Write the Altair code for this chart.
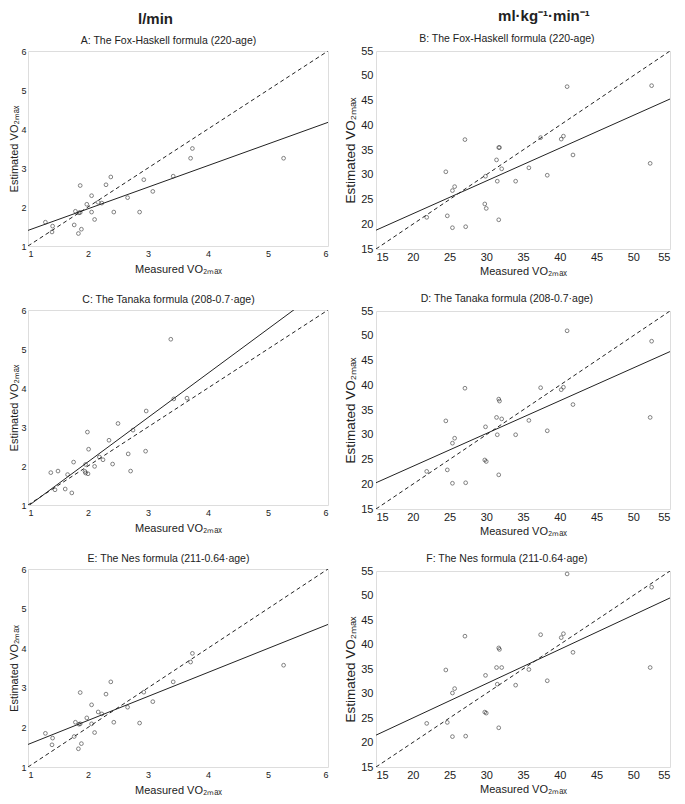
import altair as alt
import pandas as pd

FONT = "Liberation Sans"
INK = "#222222"

# ---------------- data ----------------
# l/min panels (A, E share measured values)
measured_lmin = [1.29, 1.40, 1.41, 1.77, 1.79, 1.84, 1.85, 1.87, 1.87, 1.89, 1.98, 2.06, 2.06, 2.11,
                 2.17, 2.23, 2.30, 2.38, 2.43, 2.66, 2.86, 2.93, 3.08, 3.42, 3.71, 3.74, 5.26]
est_A = [1.61, 1.36, 1.51, 1.54, 1.89, 1.32, 1.85, 1.86, 2.55, 1.43, 2.07, 2.29, 1.87, 1.68,
         2.12, 2.10, 2.57, 2.77, 1.87, 2.24, 1.87, 2.70, 2.40, 2.79, 3.25, 3.50, 3.25]
est_E = [1.85, 1.56, 1.73, 1.77, 2.13, 1.46, 2.08, 2.09, 2.88, 1.59, 2.24, 2.57, 2.09, 1.87,
         2.39, 2.34, 2.84, 3.15, 2.13, 2.51, 2.11, 2.89, 2.65, 3.15, 3.65, 3.87, 3.57]
# panel C as drawn
x_C = [1.38, 1.50, 1.45, 1.62, 1.66, 1.73, 1.76, 1.96, 1.95, 1.96, 2.00, 1.99, 2.01, 2.11,
       2.19, 2.25, 2.35, 2.41, 2.50, 2.67, 2.71, 2.75, 2.97, 2.96, 3.38, 3.43, 3.65]
y_C = [1.83, 1.87, 1.39, 1.41, 1.78, 1.31, 2.10, 2.04, 1.86, 1.82, 1.80, 2.87, 2.43, 1.99,
       2.23, 2.16, 2.66, 2.05, 3.09, 2.31, 1.87, 2.92, 3.41, 2.38, 5.25, 3.72, 3.74]

# ml/kg/min panels (B, D, F share measured values)
measured_mlkg = [21.9, 24.5, 24.7, 25.4, 25.7, 25.4, 27.1, 27.2, 29.8, 30.0, 29.9, 31.4, 31.5, 31.7,
                 31.8, 31.7, 32.1, 34.0, 35.8, 37.4, 38.3, 40.2, 40.5, 41.0, 41.8, 52.3, 52.5]
est_B = [21.4, 30.6, 21.7, 26.8, 27.6, 19.3, 37.1, 19.5, 24.1, 23.2, 29.7, 33.0, 28.7, 35.5,
         35.5, 20.9, 31.2, 28.7, 31.4, 37.5, 29.9, 37.2, 37.8, 47.8, 34.0, 32.3, 48.0]
est_D = [22.6, 32.8, 22.9, 28.3, 29.3, 20.2, 39.4, 20.3, 24.9, 24.6, 31.6, 33.5, 30.0, 37.2,
         36.8, 21.9, 33.2, 30.0, 32.9, 39.5, 30.8, 39.1, 39.6, 51.0, 36.1, 33.5, 48.9]
est_F = [23.9, 34.8, 24.1, 30.1, 31.0, 21.2, 41.7, 21.3, 26.2, 26.0, 33.7, 35.3, 31.9, 39.3,
         39.0, 23.0, 35.3, 31.7, 34.9, 42.0, 32.6, 41.4, 42.2, 54.4, 38.4, 35.3, 51.7]

# regression line end points (x at domain ends, y)
reg_x_lmin = [1, 6]
reg_A = [1.40, 4.17]
reg_C = [0.97, 6.65]
reg_E = [1.57, 4.60]
reg_x_mlkg = [15, 55]
reg_B = [18.8, 45.3]
reg_D = [20.3, 46.8]
reg_F = [21.5, 49.5]

titles = {
    "A": "A: The Fox-Haskell formula (220-age)",
    "B": "B: The Fox-Haskell formula (220-age)",
    "C": "C: The Tanaka formula (208-0.7\u00b7age)",
    "D": "D: The Tanaka formula (208-0.7\u00b7age)",
    "E": "E: The Nes formula (211-0.64\u00b7age)",
    "F": "F: The Nes formula (211-0.64\u00b7age)",
}

X_TITLE = "Measured VO\u2082\u2098\u2090\u2093"
Y_TITLE = "Estimated VO\u2082\u2098\u2090\u2093"


def panel(key, xs, ys, reg_x, reg_y, domain, tick_vals, left, h):
    w = 300 if left else 294
    lab = 9 if left else 11
    ytf = 11 if left else 13.5
    pts = pd.DataFrame({"x": xs, "y": ys})
    reg = pd.DataFrame({"x": reg_x, "y": reg_y})
    ident = pd.DataFrame({"x": domain, "y": domain})

    xs_ = alt.Scale(domain=domain, nice=False, zero=False)
    ys_ = alt.Scale(domain=domain, nice=False, zero=False)
    common = dict(values=tick_vals, format="d", grid=False, ticks=False, domain=False,
                  labelOverlap=False, labelBound=False, labelFontSize=lab,
                  titleFontWeight="normal", labelFont=FONT, titleFont=FONT,
                  labelColor=INK, titleColor=INK)
    xax = alt.Axis(title=X_TITLE, labelPadding=2 if not left else 3, titleFontSize=11,
                   titlePadding=3 if not left else 5, **common)
    yax = alt.Axis(title=Y_TITLE, labelPadding=2 if left else 3, titleFontSize=ytf,
                   titlePadding=1 if left else 3, **common)

    X = alt.X("x:Q", scale=xs_, axis=xax)
    Y = alt.Y("y:Q", scale=ys_, axis=yax)
    p = alt.Chart(pts).mark_point(shape="circle", filled=False, size=14, strokeWidth=0.8,
                                  color=INK, clip=True).encode(x=X, y=Y)
    r = alt.Chart(reg).mark_line(color=INK, strokeWidth=1, clip=True).encode(x=X, y=Y)
    d = alt.Chart(ident).mark_line(color=INK, strokeWidth=1, strokeDash=[4, 3],
                                   clip=True).encode(x=X, y=Y)
    return alt.layer(d, r, p).properties(
        width=w, height=h,
        title=alt.TitleParams(titles[key], fontSize=10.5, fontWeight="normal", font=FONT,
                              color=INK, offset=1, anchor="middle", frame="bounds"),
    )


lmin_dom = [1, 6]
lmin_ticks = [1, 2, 3, 4, 5, 6]
mlkg_dom = [15, 55]
mlkg_ticks = [15, 20, 25, 30, 35, 40, 45, 50, 55]

A = panel("A", measured_lmin, est_A, reg_x_lmin, reg_A, lmin_dom, lmin_ticks, True, 195)
C = panel("C", x_C, y_C, reg_x_lmin, reg_C, lmin_dom, lmin_ticks, True, 195)
E = panel("E", measured_lmin, est_E, reg_x_lmin, reg_E, lmin_dom, lmin_ticks, True, 198)
B = panel("B", measured_mlkg, est_B, reg_x_mlkg, reg_B, mlkg_dom, mlkg_ticks, False, 198)
D = panel("D", measured_mlkg, est_D, reg_x_mlkg, reg_D, mlkg_dom, mlkg_ticks, False, 198)
F = panel("F", measured_mlkg, est_F, reg_x_mlkg, reg_F, mlkg_dom, mlkg_ticks, False, 196)

left = alt.vconcat(A, C, E, spacing=19, title=alt.TitleParams(
    "l/min", fontSize=15, fontWeight="bold", font=FONT, color=INK, anchor="middle", offset=8, dx=-13))
right = alt.vconcat(B, D, F, spacing=16, title=alt.TitleParams(
    "ml\u00b7kg\u207b\u00b9\u00b7min\u207b\u00b9", fontSize=15, fontWeight="bold", font=FONT,
    color=INK, anchor="middle", offset=9, dx=37))

chart = alt.hconcat(left, right, spacing=14).properties(
    padding={"left": 0, "top": 1, "right": 0, "bottom": 0}
).configure_view(stroke="#333333", strokeWidth=1).configure_axis(
    labelOverlap=False, labelBound=False
).configure(background="white")

chart.save("out.html", embed_options={"renderer": "svg", "actions": False})
